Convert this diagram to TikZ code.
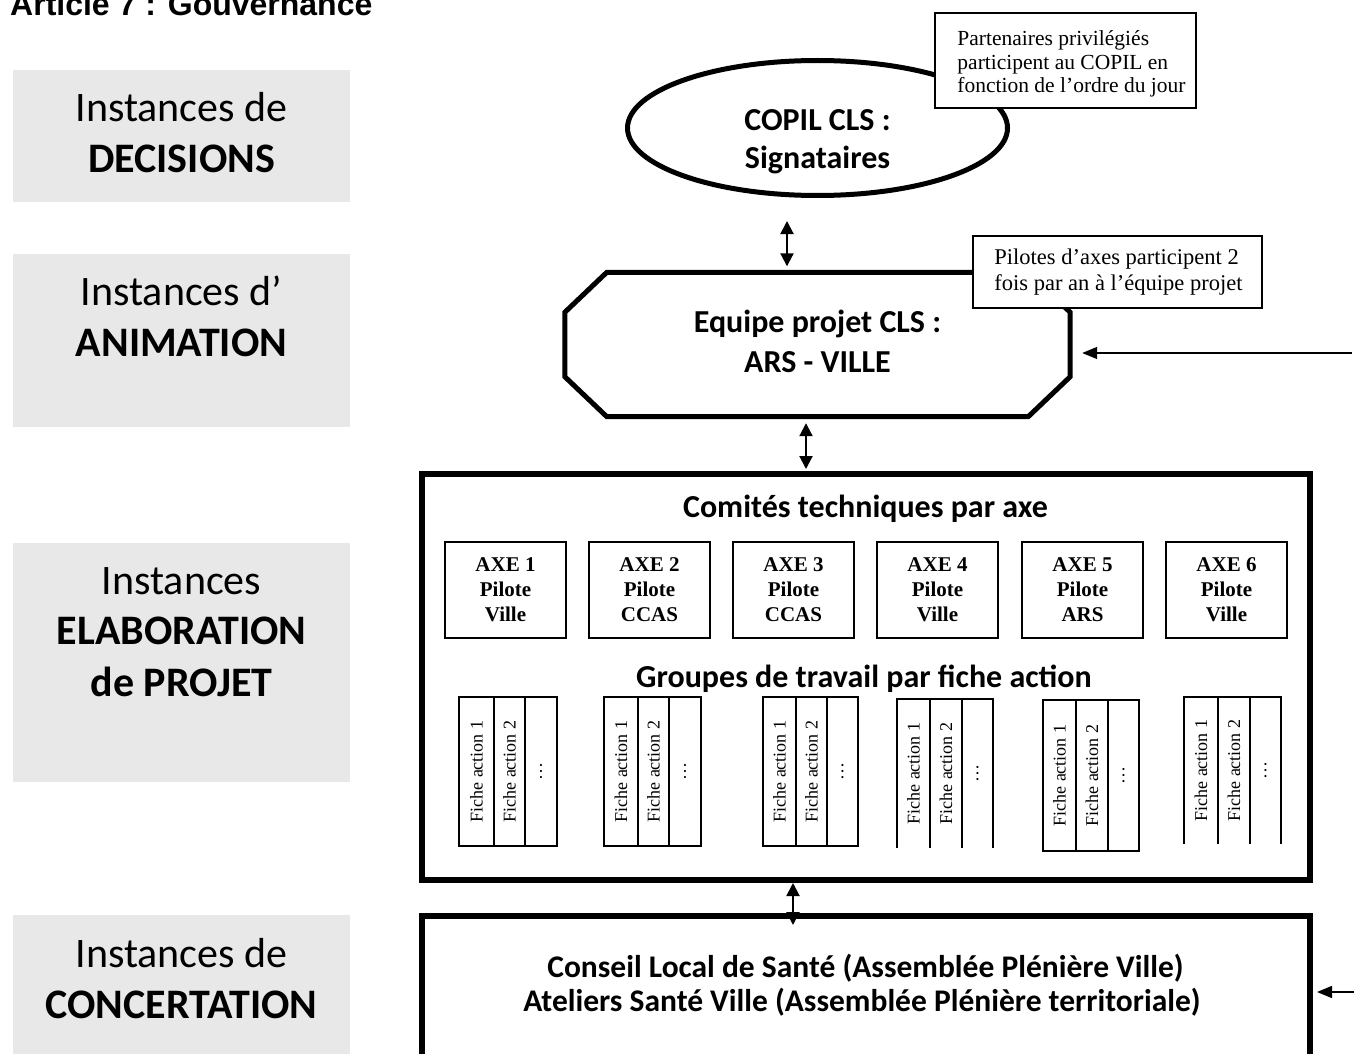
\documentclass[tikz,border=0pt]{standalone}
\usepackage{fontspec}
\setmainfont{Carlito}
\newfontfamily\tnr{Liberation Serif}
\newfontfamily\arialf{Liberation Sans}
\usetikzlibrary{shapes.geometric,arrows.meta,calc}
\definecolor{boxgray}{RGB}{232,232,232}
\newcommand\ficheblk[8]{%
  \ifnum#8=1 \draw[fline] (#2,#6) rectangle (#5,#7);
  \else \draw[fline] (#2,#7) -- (#2,#6) -- (#5,#6) -- (#5,#7); \fi
  \draw[fline] (#3,#6) -- (#3,#7) (#4,#6) -- (#4,#7);
  \node[fa] (#1a) at ({(#2+#3)/2},{(#6+#7)/2}) {Fiche action 1};
  \node[fa] (#1b) at ({(#3+#4)/2},{(#6+#7)/2}) {Fiche action 2};
  \node[fa] (#1c) at ({(#4+#5)/2},{(#6+#7)/2}) {\ldots};
}
\begin{document}
\begin{tikzpicture}[x=1pt,y=-1pt,
  graybox/.style={fill=boxgray, draw=none, inner sep=0pt, minimum width=337pt},
  lbl/.style={anchor=base, inner sep=0pt, font=\fontsize{42}{50}\selectfont},
  big/.style={anchor=base, inner sep=0pt, font=\bfseries\fontsize{32}{38}\selectfont},
  axe/.style={draw, line width=2pt, minimum width=121pt, minimum height=96pt, inner sep=0pt, align=center, font=\tnr\bfseries\fontsize{21}{25}\selectfont},
  fa/.style={rotate=90, inner sep=0pt, font=\tnr\fontsize{18}{20}\selectfont},
  fline/.style={line width=2pt},
  notebox/.style={draw, line width=1.5pt, fill=white, inner sep=0pt},
  notetxt/.style={anchor=west, align=left, inner sep=0pt},
  heavy/.style={line width=5pt},
  dbl/.style={line width=2pt, {Triangle[length=13pt,width=13pt]}-{Triangle[length=13pt,width=13pt]}},
  inarr/.style={line width=1.5pt, -{Triangle[length=15pt,width=12pt]}},
]
\useasboundingbox (0,0) rectangle (1354,1054);

% title
\node[anchor=base west, inner sep=0pt, font=\arialf\bfseries\fontsize{32}{38}\selectfont] (title) at (10,16) {Article 7 : Gouvernance};

% left gray boxes
\node[graybox, minimum height=132pt] (g1) at (181.5,136) {};
\node[graybox, minimum height=173pt] (g2) at (181.5,340.5) {};
\node[graybox, minimum height=239pt] (g3) at (181.5,662.5) {};
\node[graybox, minimum height=145pt] (g4) at (181.5,987.5) {};
\node[lbl] (g1a) at (181.5,122) {Instances de};
\node[lbl] (g1b) at (181.5,172) {\bfseries DECISIONS};
\node[lbl] (g2a) at (181.5,305) {Instances d’};
\node[lbl] (g2b) at (181.5,356) {\bfseries ANIMATION};
\node[lbl] (g3a) at (181.5,594) {Instances};
\node[lbl] (g3b) at (181.5,644) {\bfseries ELABORATION};
\node[lbl] (g3c) at (181.5,696) {\bfseries de PROJET};
\node[lbl] (g4a) at (181.5,967.5) {Instances de};
\node[lbl] (g4b) at (181.5,1018) {\bfseries CONCERTATION};

% COPIL ellipse
\node[ellipse, draw, heavy, minimum width=380pt, minimum height=135pt, inner sep=0pt] (copil) at (817.5,128) {};
\node[big] (copilA) at (817.5,131) {COPIL CLS :};
\node[big] (copilB) at (817.5,168) {Signataires};
\node[notebox, minimum width=261pt, minimum height=95pt] (note1) at (1065.5,60.5) {};
\node[notetxt, font=\tnr\fontsize{21.5}{23.5}\selectfont] (note1t) at ($(note1.west)+(23,3.5)$)
  {Partenaires privilégiés\\participent au COPIL en\\fonction de l’ordre du jour};

% Equipe projet octagon
\node[minimum width=505pt, minimum height=144pt, inner sep=0pt] (oct) at (817.5,344.5) {};
\draw[heavy] ($(oct.north west)+(42,0)$) -- ($(oct.north east)+(-42,0)$) -- ($(oct.north east)+(0,40)$)
  -- ($(oct.south east)+(0,-40)$) -- ($(oct.south east)+(-42,0)$) -- ($(oct.south west)+(42,0)$)
  -- ($(oct.south west)+(0,-40)$) -- ($(oct.north west)+(0,40)$) -- cycle;
\node[big] (octA) at (817.5,332) {Equipe projet CLS :};
\node[big] (octB) at (817.5,372) {ARS - VILLE};
\node[notebox, minimum width=289pt, minimum height=72pt] (note2) at (1117.5,272) {};
\node[notetxt, font=\tnr\fontsize{22.5}{26.5}\selectfont] (note2t) at ($(note2.west)+(22,0)$)
  {Pilotes d’axes participent 2\\fois par an à l’équipe projet};

% Comites techniques box
\node[draw, line width=6pt, minimum width=888pt, minimum height=406.5pt, inner sep=0pt] (tech) at (865.5,676.75) {};
\node[big] (hcom) at (865.5,517) {Comités techniques par axe};
\node[axe] (axe1) at (505.5,590) {AXE 1\\Pilote\\Ville};
\node[axe] (axe2) at (649.5,590) {AXE 2\\Pilote\\CCAS};
\node[axe] (axe3) at (793.5,590) {AXE 3\\Pilote\\CCAS};
\node[axe] (axe4) at (937.5,590) {AXE 4\\Pilote\\Ville};
\node[axe] (axe5) at (1082.5,590) {AXE 5\\Pilote\\ARS};
\node[axe] (axe6) at (1226.5,590) {AXE 6\\Pilote\\Ville};
\node[big] (hgrp) at (864,687) {Groupes de travail par fiche action};
\ficheblk{fA}{459}{494}{525}{557}{697}{846}{1}
\ficheblk{fB}{604}{638}{669}{701}{697}{846}{1}
\ficheblk{fC}{763}{796}{827}{858}{697}{846}{1}
\ficheblk{fD}{897}{930}{962}{993}{699}{848}{0}
\ficheblk{fE}{1043}{1076}{1108}{1139}{700}{851}{1}
\ficheblk{fF}{1184}{1218}{1250}{1281}{697}{844}{0}

% Concertation box
\node[draw, line width=6pt, minimum width=888pt, minimum height=184.5pt, inner sep=0pt] (conc) at (865.5,1007.75) {};
\node[big, font=\bfseries\fontsize{31.5}{38}\selectfont] (conc1) at (865.5,977) {Conseil Local de Santé (Assemblée Plénière Ville)};
\node[big, font=\bfseries\fontsize{31.5}{38}\selectfont] (conc2) at (862,1011) {Ateliers Santé Ville (Assemblée Plénière territoriale)};

% connectors
\draw[dbl] ($(copil.south)+(-30.5,23)$) -- ($(oct.north)+(-30.5,-6)$);
\draw[dbl] ($(oct.south)+(-11.5,6.5)$) -- ($(oct.south |- tech.north)+(-11.5,-1.5)$);
\draw[dbl] ($(tech.south)+(-72.5,0)$) -- ($(conc.north)+(-72.5,12.5)$);
\coordinate (r1) at (1352,353);
\coordinate (r2) at (1354,992);
\draw[inarr] (r1) -- ($(oct.east |- r1)+(12,0)$);
\draw[inarr] (r2) -- ($(conc.east |- r2)+(4.5,0)$);
\end{tikzpicture}
\end{document}
